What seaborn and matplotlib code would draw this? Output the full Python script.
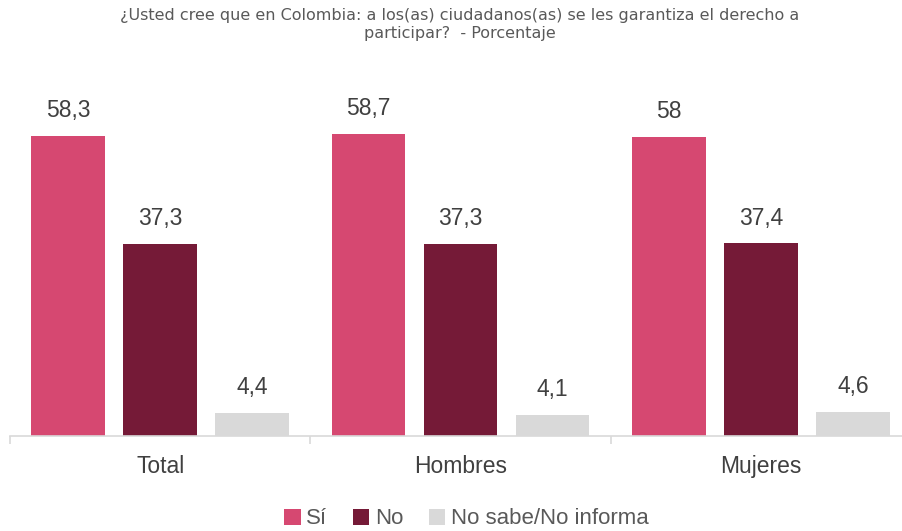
import matplotlib
matplotlib.use("Agg")
import matplotlib.pyplot as plt
import seaborn as sns
import pandas as pd
from matplotlib.patches import Patch

categories = ["Total", "Hombres", "Mujeres"]
series_names = ["Sí", "No", "No sabe/No informa"]
si_values = [58.3, 58.7, 58.0]
no_values = [37.3, 37.3, 37.4]
ns_values = [4.4, 4.1, 4.6]
label_texts = [["58,3", "58,7", "58"], ["37,3", "37,3", "37,4"], ["4,4", "4,1", "4,6"]]
colors = ["#D64871", "#751A37", "#D9D9D9"]
title = "¿Usted cree que en Colombia: a los(as) ciudadanos(as) se les garantiza el derecho a\nparticipar?  - Porcentaje"

rows = []
for name, vals in zip(series_names, [si_values, no_values, ns_values]):
    for c, v in zip(categories, vals):
        rows.append({"Grupo": c, "Respuesta": name, "Valor": v})
df = pd.DataFrame(rows)

sns.set_theme(style="white")
plt.rcParams["font.family"] = ["Liberation Sans", "DejaVu Sans"]

fig = plt.figure(figsize=(9.02, 5.31), dpi=100)
W, H = 902, 531
ax = fig.add_axes([10 / W, 1 - 436 / H, 901 / W, (436 - 75.6) / H])

sns.barplot(data=df, x="Grupo", y="Valor", hue="Respuesta", order=categories,
            hue_order=series_names, palette=colors, width=0.92, gap=0.2,
            saturation=1, ax=ax, legend=False, linewidth=0)

for cont, labs in zip(ax.containers, label_texts):
    ax.bar_label(cont, labels=labs, padding=10, fontsize=16.5, color="#404040")

ax.set_xlim(-0.5, 2.5)
ax.set_ylim(0, 70)
ax.set_xlabel("")
ax.set_ylabel("")
ax.set_yticks([])
for s in ["top", "right", "left"]:
    ax.spines[s].set_visible(False)
ax.spines["bottom"].set_color("#D9D9D9")
ax.spines["bottom"].set_linewidth(1.2)
ax.set_xticks([0, 1, 2])
ax.set_xticklabels(categories, fontsize=16.5, color="#404040")
ax.tick_params(axis="x", which="major", length=0, pad=14)
ax.set_xticks([-0.5, 0.5, 1.5], minor=True)
ax.tick_params(axis="x", which="minor", length=6, width=1.2, color="#D9D9D9", direction="out", bottom=True)

fig.text(0.51, 1 - 8 / H, title, ha="center", va="top", fontsize=11.5,
         color="#595959", family=["DejaVu Sans"], linespacing=1.25)

handles = [Patch(facecolor=c, edgecolor="none") for c in colors]
fig.legend(handles, series_names, loc="center", bbox_to_anchor=(0.517, 1 - 519 / H),
           ncol=3, frameon=False, fontsize=16, handlelength=0.75, handleheight=0.75,
           handletextpad=0.25, columnspacing=1.15, labelcolor="#595959")

fig.savefig("out.png", dpi=100)
